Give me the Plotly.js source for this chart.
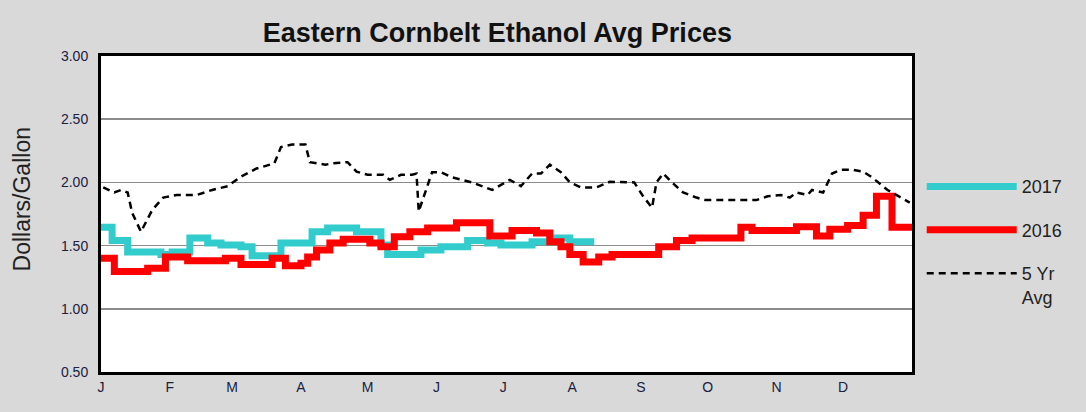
<!DOCTYPE html>
<html>
<head>
<meta charset="utf-8">
<script src="https://cdn.plot.ly/plotly-3.0.1.min.js"></script>
<style>
  body { margin: 0; background: #d9d9d9; }
  #chart { width: 1086px; height: 412px; }
</style>
</head>
<body>
<div id="chart"></div>
<script>
// x = day of year, values in $/gallon
var monthStarts = [0, 31, 59, 90, 120, 151, 181, 212, 243, 273, 304, 334];
var monthLabels = ['J', 'F', 'M', 'A', 'M', 'J', 'J', 'A', 'S', 'O', 'N', 'D'];

var days2017 = [0, 5, 12, 27, 32, 40, 48, 54, 63, 68, 81, 95, 102, 115, 126, 129, 144, 153, 165, 174, 180, 194, 202, 211, 222];
var price2017 = [1.645, 1.54, 1.45, 1.43, 1.45, 1.56, 1.52, 1.505, 1.49, 1.42, 1.52, 1.61, 1.64, 1.61, 1.505, 1.43, 1.465, 1.49, 1.54, 1.52, 1.505, 1.53, 1.56, 1.53, 1.53];

var days2016 = [0, 6, 21, 29, 39, 56, 63, 77, 83, 90, 93, 97, 103, 109, 121, 126, 132, 139, 147, 160, 175, 185, 196, 202, 207, 211, 217, 224, 230, 251, 259, 266, 288, 293, 313, 322, 328, 336, 343, 349, 356, 365];
var price2016 = [1.40, 1.295, 1.32, 1.41, 1.38, 1.40, 1.35, 1.40, 1.34, 1.36, 1.41, 1.465, 1.52, 1.55, 1.52, 1.49, 1.57, 1.61, 1.64, 1.68, 1.575, 1.62, 1.60, 1.53, 1.49, 1.43, 1.37, 1.41, 1.43, 1.49, 1.54, 1.56, 1.645, 1.62, 1.65, 1.575, 1.63, 1.66, 1.74, 1.89, 1.645, 1.645];

var daysAvg = [1, 6, 9, 12, 14, 18, 23, 28, 34, 43, 50, 57, 63, 70, 78, 81, 86, 92, 94, 101, 104, 111, 115, 120, 127, 130, 135, 140, 142, 143, 149, 153, 158, 167, 176, 182, 184, 189, 194, 198, 202, 207, 211, 216, 223, 229, 238, 240, 244, 248, 250, 253, 257, 262, 268, 272, 295, 300, 306, 310, 313, 318, 320, 325, 329, 333, 338, 343, 347, 354, 360, 364];
var priceAvg = [1.96, 1.92, 1.94, 1.92, 1.76, 1.61, 1.78, 1.88, 1.90, 1.90, 1.94, 1.97, 2.045, 2.11, 2.15, 2.28, 2.30, 2.30, 2.16, 2.14, 2.15, 2.16, 2.085, 2.06, 2.06, 2.02, 2.06, 2.06, 2.07, 1.77, 2.08, 2.08, 2.04, 2.00, 1.94, 2.00, 2.02, 1.97, 2.07, 2.07, 2.14, 2.08, 2.00, 1.96, 1.96, 2.005, 2.005, 2.00, 1.89, 1.80, 2.00, 2.07, 2.00, 1.92, 1.88, 1.86, 1.86, 1.89, 1.90, 1.88, 1.92, 1.90, 1.94, 1.92, 2.07, 2.10, 2.10, 2.085, 2.04, 1.94, 1.88, 1.84];

var yTicks = [0.5, 1.0, 1.5, 2.0, 2.5, 3.0];

var traces = [
  {
    x: days2017, y: price2017, name: '2017', legendgroup: 'a',
    type: 'scatter', mode: 'lines',
    line: {color: '#33cccc', width: 7, shape: 'hv'}
  },
  {
    x: days2016, y: price2016, name: '2016', legendgroup: 'b',
    type: 'scatter', mode: 'lines',
    line: {color: '#ff0000', width: 7, shape: 'hv'}
  },
  {
    x: daysAvg, y: priceAvg, name: '5 Yr<br>Avg', legendgroup: 'c',
    type: 'scatter', mode: 'lines',
    line: {color: '#000000', width: 2.5, dash: '7px,5px'}
  }
];

var layout = {
  width: 1086,
  height: 412,
  paper_bgcolor: '#d9d9d9',
  plot_bgcolor: '#ffffff',
  margin: {l: 101, r: 174, t: 56, b: 40},
  font: {family: 'Liberation Sans, Arial, sans-serif', color: '#202040'},
  title: {
    text: '<b>Eastern Cornbelt Ethanol Avg Prices</b>',
    font: {size: 27, color: '#111111'},
    x: 0.458, xanchor: 'center',
    y: 0.92, yanchor: 'middle'
  },
  xaxis: {
    range: [0, 365],
    tickvals: monthStarts,
    ticktext: monthLabels,
    showgrid: false,
    zeroline: false,
    showline: true, mirror: true, linecolor: '#000', linewidth: 3,
    ticks: '',
    tickfont: {size: 14}
  },
  yaxis: {
    range: [0.5, 3.0],
    tickvals: yTicks,
    tickformat: '.2f',
    showgrid: true, gridcolor: '#8c8c8c', gridwidth: 1.5,
    zeroline: false,
    showline: true, mirror: true, linecolor: '#000', linewidth: 3,
    ticks: '',
    ticklabelstandoff: 7,
    tickfont: {size: 14}
  },
  annotations: [{
    text: 'Dollars/Gallon',
    xref: 'paper', yref: 'paper',
    x: -0.097, y: 0.547,
    xanchor: 'center', yanchor: 'middle',
    textangle: -90, showarrow: false,
    font: {size: 23, color: '#222222'}
  }],
  showlegend: true,
  legend: {
    x: 1.012, y: 0.645, xanchor: 'left', yanchor: 'top',
    bgcolor: 'rgba(0,0,0,0)',
    font: {size: 18, color: '#222222'},
    itemwidth: 90,
    valign: 'top',
    tracegroupgap: 17
  }
};

Plotly.newPlot('chart', traces, layout, {displayModeBar: false, staticPlot: true});
</script>
</body>
</html>
